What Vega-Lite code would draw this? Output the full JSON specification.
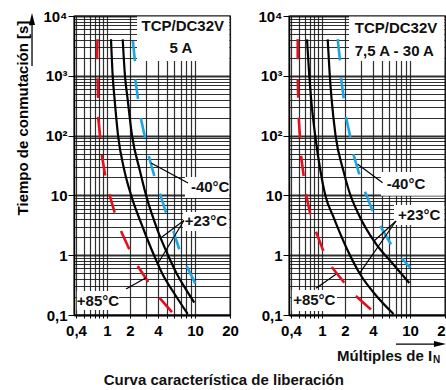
{
  "$schema": "https://vega.github.io/schema/vega-lite/v6.json",
  "background": "white",
  "padding": {"left": 14, "top": 8, "right": 0, "bottom": 0},
  "spacing": 59,
  "bounds": "flush",
  "config": {
    "view": {"stroke": "black", "strokeWidth": 1.3},
    "font": "Liberation Sans",
    "axis": {
      "labelFont": "Liberation Sans",
      "labelFontWeight": "bold",
      "labelFontSize": 15,
      "labelColor": "black",
      "domainColor": "black",
      "tickColor": "black",
      "gridColor": "#1a1a1a",
      "titleFont": "Liberation Sans",
      "titleColor": "black"
    }
  },
  "datasets": {
    "curvesL": [
      {"id": "a", "x": 1.128, "y": 4075}, {"id": "a", "x": 1.187, "y": 993}, {"id": "a", "x": 1.253, "y": 426},
      {"id": "a", "x": 1.393, "y": 102}, {"id": "a", "x": 1.694, "y": 25.6}, {"id": "a", "x": 2.05, "y": 10.2},
      {"id": "a", "x": 2.76, "y": 2.85}, {"id": "a", "x": 3.62, "y": 1.0}, {"id": "a", "x": 4.58, "y": 0.449},
      {"id": "a", "x": 5.76, "y": 0.252}, {"id": "a", "x": 8.34, "y": 0.104},
      {"id": "b", "x": 1.605, "y": 4075}, {"id": "b", "x": 1.72, "y": 993}, {"id": "b", "x": 1.854, "y": 426},
      {"id": "b", "x": 2.1, "y": 102}, {"id": "b", "x": 2.56, "y": 25.6}, {"id": "b", "x": 2.97, "y": 10.2},
      {"id": "b", "x": 4.0, "y": 2.51}, {"id": "b", "x": 5.13, "y": 1.0}, {"id": "b", "x": 6.56, "y": 0.449},
      {"id": "b", "x": 7.81, "y": 0.284}, {"id": "b", "x": 9.83, "y": 0.161}
    ],
    "curvesR": [
      {"id": "a", "x": 0.642, "y": 4075}, {"id": "a", "x": 0.687, "y": 993}, {"id": "a", "x": 0.723, "y": 426},
      {"id": "a", "x": 0.825, "y": 91.2}, {"id": "a", "x": 0.956, "y": 25.6}, {"id": "a", "x": 1.111, "y": 9.78},
      {"id": "a", "x": 1.393, "y": 4.53}, {"id": "a", "x": 2.076, "y": 1.32}, {"id": "a", "x": 2.9, "y": 0.485},
      {"id": "a", "x": 4.36, "y": 0.208}, {"id": "a", "x": 6.65, "y": 0.104},
      {"id": "b", "x": 1.187, "y": 4075}, {"id": "b", "x": 1.265, "y": 993}, {"id": "b", "x": 1.331, "y": 426},
      {"id": "b", "x": 1.502, "y": 102}, {"id": "b", "x": 1.91, "y": 25.6}, {"id": "b", "x": 2.21, "y": 11.86},
      {"id": "b", "x": 2.79, "y": 4.89}, {"id": "b", "x": 4.31, "y": 1.54}, {"id": "b", "x": 6.56, "y": 0.713},
      {"id": "b", "x": 9.83, "y": 0.343}
    ],
    "dashesL": [
      {"c": "r", "s": "r1", "x": 0.755, "y": 4100}, {"c": "r", "s": "r1", "x": 0.745, "y": 1890},
      {"c": "r", "s": "r2", "x": 0.755, "y": 908}, {"c": "r", "s": "r2", "x": 0.77, "y": 426},
      {"c": "r", "s": "r3", "x": 0.77, "y": 205}, {"c": "r", "s": "r3", "x": 0.818, "y": 92},
      {"c": "r", "s": "r4", "x": 0.857, "y": 47.4}, {"c": "r", "s": "r4", "x": 0.948, "y": 21.5},
      {"c": "r", "s": "r5", "x": 1.072, "y": 10.5}, {"c": "r", "s": "r5", "x": 1.261, "y": 5.14},
      {"c": "r", "s": "r6", "x": 1.525, "y": 2.54}, {"c": "r", "s": "r6", "x": 1.957, "y": 1.256},
      {"c": "r", "s": "r7", "x": 2.42, "y": 0.66}, {"c": "r", "s": "r7", "x": 3.14, "y": 0.356},
      {"c": "r", "s": "r8", "x": 4.13, "y": 0.195}, {"c": "r", "s": "r8", "x": 5.66, "y": 0.112},
      {"c": "b", "s": "b1", "x": 2.15, "y": 3820}, {"c": "b", "s": "b1", "x": 2.26, "y": 1766},
      {"c": "b", "s": "b2", "x": 2.28, "y": 867}, {"c": "b", "s": "b2", "x": 2.44, "y": 409},
      {"c": "b", "s": "b3", "x": 2.61, "y": 197}, {"c": "b", "s": "b3", "x": 2.91, "y": 91},
      {"c": "b", "s": "b4", "x": 3.18, "y": 45.6}, {"c": "b", "s": "b4", "x": 3.65, "y": 21.1},
      {"c": "b", "s": "b5", "x": 4.2, "y": 10.7}, {"c": "b", "s": "b5", "x": 4.88, "y": 5.14},
      {"c": "b", "s": "b6", "x": 5.84, "y": 2.54}, {"c": "b", "s": "b6", "x": 6.78, "y": 1.256},
      {"c": "b", "s": "b7", "x": 8.14, "y": 0.66}, {"c": "b", "s": "b7", "x": 10.06, "y": 0.334}
    ],
    "dashesR": [
      {"c": "r", "s": "r1", "x": 0.488, "y": 4100}, {"c": "r", "s": "r1", "x": 0.488, "y": 1890},
      {"c": "r", "s": "r2", "x": 0.488, "y": 873}, {"c": "r", "s": "r2", "x": 0.496, "y": 430},
      {"c": "r", "s": "r3", "x": 0.502, "y": 199}, {"c": "r", "s": "r3", "x": 0.522, "y": 92},
      {"c": "r", "s": "r4", "x": 0.538, "y": 46}, {"c": "r", "s": "r4", "x": 0.582, "y": 21.1},
      {"c": "r", "s": "r5", "x": 0.623, "y": 10.4}, {"c": "r", "s": "r5", "x": 0.708, "y": 4.83},
      {"c": "r", "s": "r6", "x": 0.838, "y": 2.47}, {"c": "r", "s": "r6", "x": 1.04, "y": 1.18},
      {"c": "r", "s": "r7", "x": 1.34, "y": 0.635}, {"c": "r", "s": "r7", "x": 1.957, "y": 0.347},
      {"c": "r", "s": "r8", "x": 2.62, "y": 0.208}, {"c": "r", "s": "r8", "x": 3.8, "y": 0.124},
      {"c": "b", "s": "b1", "x": 1.605, "y": 4100}, {"c": "b", "s": "b1", "x": 1.72, "y": 1815},
      {"c": "b", "s": "b2", "x": 1.775, "y": 929}, {"c": "b", "s": "b2", "x": 1.923, "y": 421},
      {"c": "b", "s": "b3", "x": 2.05, "y": 205}, {"c": "b", "s": "b3", "x": 2.28, "y": 95},
      {"c": "b", "s": "b4", "x": 2.46, "y": 49}, {"c": "b", "s": "b4", "x": 2.85, "y": 22.5},
      {"c": "b", "s": "b5", "x": 3.28, "y": 11.5}, {"c": "b", "s": "b5", "x": 3.97, "y": 5.48},
      {"c": "b", "s": "b6", "x": 4.79, "y": 3.08}, {"c": "b", "s": "b6", "x": 6.25, "y": 1.52},
      {"c": "b", "s": "b7", "x": 8.14, "y": 0.888}, {"c": "b", "s": "b7", "x": 10.06, "y": 0.618}
    ],
    "boxesL": [
      {"x": 2.38, "x2": 19.7, "y": 9800, "y2": 1766},
      {"x": 7.8, "x2": 19.7, "y": 20.3, "y2": 9.06},
      {"x": 7.43, "x2": 19.7, "y": 5.27, "y2": 2.54},
      {"x": 0.41, "x2": 1.437, "y": 0.252, "y2": 0.121}
    ],
    "boxesR": [
      {"x": 2.21, "x2": 19.7, "y": 9800, "y2": 1766},
      {"x": 4.88, "x2": 19.7, "y": 24.6, "y2": 9.85},
      {"x": 6.73, "x2": 19.7, "y": 6.9, "y2": 3.2},
      {"x": 0.41, "x2": 1.57, "y": 0.262, "y2": 0.117}
    ],
    "leadL": [
      {"x": 3.37, "y": 34.8, "x2": 8.41, "y2": 16.1},
      {"x": 7.6, "y": 3.8, "x2": 4.3, "y2": 1.96},
      {"x": 7.6, "y": 3.8, "x2": 3.95, "y2": 0.705},
      {"x": 1.774, "y": 0.272, "x2": 2.97, "y2": 0.421}
    ],
    "leadR": [
      {"x": 2.74, "y": 33.1, "x2": 5.08, "y2": 16.3},
      {"x": 7.07, "y": 3.73, "x2": 4.1, "y2": 1.73},
      {"x": 7.07, "y": 3.73, "x2": 2.85, "y2": 0.491},
      {"x": 0.838, "y": 0.28, "x2": 1.525, "y2": 0.48}
    ],
    "textL": [
      {"t": "TCP/DC32V", "x": 7.38, "y": 6810},
      {"t": "5 A", "x": 7.07, "y": 2950},
      {"t": "-40°C", "x": 13.5, "y": 13.8},
      {"t": "+23°C", "x": 12.4, "y": 3.73},
      {"t": "+85°C", "x": 0.766, "y": 0.171},
      {"t": "Curva característica de liberación", "x": 17.7, "y": 0.00818}
    ],
    "textR": [
      {"t": "TCP/DC32V", "x": 7.07, "y": 6370},
      {"t": "7,5 A - 30 A", "x": 6.78, "y": 2600},
      {"t": "-40°C", "x": 9.06, "y": 15.8},
      {"t": "+23°C", "x": 12.0, "y": 4.7},
      {"t": "+85°C", "x": 0.796, "y": 0.178}
    ],
    "xtitle": [{"t": "Múltiples de I", "x": 15.5, "y": 0.0206}],
    "xsub": [{"t": "N", "x": 15.8, "y": 0.01766}],
    "yarrow": [{"x": 0.109, "y": 7080, "y2": 1460}],
    "yhead": [{"x": 0.109, "y": 8910}],
    "xarrow": [{"x": 7.07, "x2": 16.1, "y": 0.0327}],
    "xhead": [{"x": 18.1, "y": 0.0327}]
  },
  "hconcat": [
    {
      "width": 156,
      "height": 299,
      "encoding": {
        "x": {"field": "x", "type": "quantitative",
          "scale": {"type": "log", "domain": [0.377, 1, 2, 4, 10, 20], "range": [0, 33, 56, 84, 121, 156], "nice": false},
          "axis": {"values": [0.4, 0.5, 0.6, 0.7, 0.8, 0.9, 1, 2, 3, 4, 5, 6, 7, 8, 9, 10, 20],
            "labelExpr": "datum.value == 0.4 ? '0,4' : (indexof([1,2,4,10,20], datum.value) >= 0 ? format(datum.value, 'd') : '')",
            "grid": true, "gridOpacity": 0.9, "gridWidth": 1.2, "tickSize": 3, "labelPadding": 5,
            "labelFlush": false, "labelOverlap": false, "title": null, "domainWidth": 1.3}},
        "y": {"field": "y", "type": "quantitative",
          "scale": {"type": "log", "domain": [0.1, 10000], "nice": false},
          "axis": {"values": [0.1, 0.2, 0.3, 0.4, 0.5, 0.6, 0.7, 0.8, 0.9, 1, 2, 3, 4, 5, 6, 7, 8, 9, 10, 20, 30, 40, 50, 60, 70, 80, 90, 100, 200, 300, 400, 500, 600, 700, 800, 900, 1000, 2000, 3000, 4000, 5000, 6000, 7000, 8000, 9000, 10000],
            "labelExpr": "datum.value == 10000 ? '10⁴' : datum.value == 1000 ? '10³' : datum.value == 100 ? '10²' : datum.value == 10 ? '10' : datum.value == 1 ? '1' : datum.value == 0.1 ? '0,1' : ''",
            "grid": true, "gridOpacity": 0.9,
            "gridWidth": {"condition": {"test": "indexof([0.1,1,10,100,1000,10000], datum.value) >= 0", "value": 2}, "value": 1.2},
            "tickOpacity": {"condition": {"test": "indexof([0.1,1,10,100,1000,10000], datum.value) >= 0", "value": 1}, "value": 0},
            "tickSize": 6, "labelPadding": 1, "labelFlush": false, "labelOverlap": false, "domainWidth": 1.5,
            "title": "Tiempo de conmutación [s]", "titleFontSize": 15, "titleFontWeight": "bold",
            "titleAngle": 270, "titleX": -47, "titleY": 101.5, "titleAlign": "center", "titleBaseline": "alphabetic"}}
      },
      "layer": [
        {"data": {"name": "boxesL"}, "mark": {"type": "rect", "fill": "white"},
          "encoding": {"x2": {"field": "x2"}, "y2": {"field": "y2"}}},
        {"data": {"name": "curvesL"}, "mark": {"type": "line", "color": "black", "strokeWidth": 2.2, "interpolate": "monotone"},
          "encoding": {"detail": {"field": "id"}}},
        {"data": {"name": "dashesL"}, "mark": {"type": "line", "strokeWidth": 2.6},
          "encoding": {"detail": {"field": "s"},
            "color": {"field": "c", "type": "nominal", "scale": {"domain": ["r", "b"], "range": ["#e2101c", "#1ea4e4"]}, "legend": null}}},
        {"data": {"name": "leadL"}, "mark": {"type": "rule", "color": "black", "strokeWidth": 1.2},
          "encoding": {"x2": {"field": "x2"}, "y2": {"field": "y2"}}},
        {"data": {"name": "textL"}, "mark": {"type": "text", "font": "Liberation Sans", "fontWeight": "bold", "fontSize": 15, "color": "#111", "align": "center", "baseline": "middle"},
          "encoding": {"text": {"field": "t"}}},
        {"data": {"name": "yarrow"}, "mark": {"type": "rule", "color": "black", "strokeWidth": 1.3},
          "encoding": {"y2": {"field": "y2"}}},
        {"data": {"name": "yhead"}, "mark": {"type": "point", "shape": "M0,-1L0.5,1L-0.5,1Z", "size": 144, "filled": true, "color": "black", "opacity": 1}}
      ]
    },
    {
      "width": 156,
      "height": 299,
      "encoding": {
        "x": {"field": "x", "type": "quantitative",
          "scale": {"type": "log", "domain": [0.377, 1, 2, 4, 10, 20], "range": [0, 33, 56, 84, 121, 156], "nice": false},
          "axis": {"values": [0.4, 0.5, 0.6, 0.7, 0.8, 0.9, 1, 2, 3, 4, 5, 6, 7, 8, 9, 10, 20],
            "labelExpr": "datum.value == 0.4 ? '0,4' : (indexof([1,2,4,10,20], datum.value) >= 0 ? format(datum.value, 'd') : '')",
            "grid": true, "gridOpacity": 0.9, "gridWidth": 1.2, "tickSize": 3, "labelPadding": 5,
            "labelFlush": false, "labelOverlap": false, "title": null, "domainWidth": 1.3}},
        "y": {"field": "y", "type": "quantitative",
          "scale": {"type": "log", "domain": [0.1, 10000], "nice": false},
          "axis": {"values": [0.1, 0.2, 0.3, 0.4, 0.5, 0.6, 0.7, 0.8, 0.9, 1, 2, 3, 4, 5, 6, 7, 8, 9, 10, 20, 30, 40, 50, 60, 70, 80, 90, 100, 200, 300, 400, 500, 600, 700, 800, 900, 1000, 2000, 3000, 4000, 5000, 6000, 7000, 8000, 9000, 10000],
            "labelExpr": "datum.value == 10000 ? '10⁴' : datum.value == 1000 ? '10³' : datum.value == 100 ? '10²' : datum.value == 10 ? '10' : datum.value == 1 ? '1' : datum.value == 0.1 ? '0,1' : ''",
            "grid": true, "gridOpacity": 0.9,
            "gridWidth": {"condition": {"test": "indexof([0.1,1,10,100,1000,10000], datum.value) >= 0", "value": 2}, "value": 1.2},
            "tickOpacity": {"condition": {"test": "indexof([0.1,1,10,100,1000,10000], datum.value) >= 0", "value": 1}, "value": 0},
            "tickSize": 6, "labelPadding": 1, "labelFlush": false, "labelOverlap": false, "domainWidth": 1.5,
            "title": null}}
      },
      "layer": [
        {"data": {"name": "boxesR"}, "mark": {"type": "rect", "fill": "white"},
          "encoding": {"x2": {"field": "x2"}, "y2": {"field": "y2"}}},
        {"data": {"name": "curvesR"}, "mark": {"type": "line", "color": "black", "strokeWidth": 2.2, "interpolate": "monotone"},
          "encoding": {"detail": {"field": "id"}}},
        {"data": {"name": "dashesR"}, "mark": {"type": "line", "strokeWidth": 2.6},
          "encoding": {"detail": {"field": "s"},
            "color": {"field": "c", "type": "nominal", "scale": {"domain": ["r", "b"], "range": ["#e2101c", "#1ea4e4"]}, "legend": null}}},
        {"data": {"name": "leadR"}, "mark": {"type": "rule", "color": "black", "strokeWidth": 1.2},
          "encoding": {"x2": {"field": "x2"}, "y2": {"field": "y2"}}},
        {"data": {"name": "textR"}, "mark": {"type": "text", "font": "Liberation Sans", "fontWeight": "bold", "fontSize": 15, "color": "#111", "align": "center", "baseline": "middle"},
          "encoding": {"text": {"field": "t"}}},
        {"data": {"name": "xtitle"}, "mark": {"type": "text", "font": "Liberation Sans", "fontWeight": "bold", "fontSize": 15, "color": "#111", "align": "right", "baseline": "middle"},
          "encoding": {"text": {"field": "t"}}},
        {"data": {"name": "xsub"}, "mark": {"type": "text", "font": "Liberation Sans", "fontWeight": "bold", "fontSize": 10, "color": "#111", "align": "left", "baseline": "middle"},
          "encoding": {"text": {"field": "t"}}},
        {"data": {"name": "xarrow"}, "mark": {"type": "rule", "color": "black", "strokeWidth": 1.3},
          "encoding": {"x2": {"field": "x2"}}},
        {"data": {"name": "xhead"}, "mark": {"type": "point", "shape": "M1,0L-1,0.5L-1,-0.5Z", "size": 144, "filled": true, "color": "black", "opacity": 1}}
      ]
    }
  ]
}
